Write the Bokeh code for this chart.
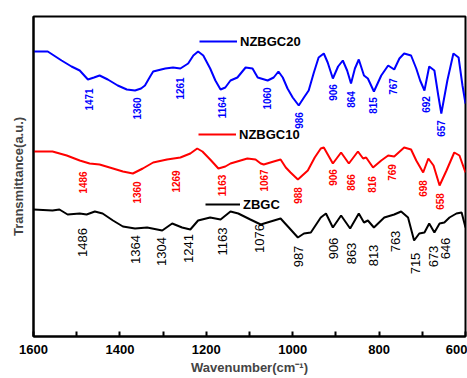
import math
from bokeh.plotting import figure
from bokeh.models import Range1d, FixedTicker, Legend, LegendItem, ColumnDataSource
from bokeh.core.properties import value
from bokeh.embed import file_html
from bokeh.resources import INLINE

# ---- data (wavenumber cm^-1, transmittance a.u.) ----
nz20_x = [1600, 1567, 1535, 1512, 1493, 1474, 1460, 1447, 1428, 1405, 1384, 1365, 1351, 1342, 1330,
          1323, 1295, 1277, 1260, 1242, 1230, 1219, 1207, 1191, 1179, 1167, 1156, 1144, 1128, 1109,
          1093, 1081, 1058, 1044, 1033, 1023, 1012, 1000, 986, 974, 963, 951, 940, 928, 919, 907,
          895, 884, 874, 865, 856, 847, 835, 826, 812, 795, 779, 765, 753, 742, 726, 714, 705, 695,
          684, 672, 663, 656, 642, 628, 616, 607, 600]
nz20_y = [285, 285, 276, 270, 266, 257, 259, 261, 257, 251, 247, 246, 248, 251, 260,
          265, 268, 269, 268, 273, 281, 285, 281, 268, 256, 247, 249, 256, 259, 269,
          268, 259, 256, 259, 265, 259, 248, 239, 231, 239, 246, 264, 279, 283, 274, 258,
          270, 276, 266, 253, 268, 277, 261, 258, 245, 261, 271, 267, 278, 283, 281, 268, 256, 246,
          270, 266, 241, 223, 256, 283, 279, 251, 233]

nz10_x = [1600, 1556, 1523, 1493, 1470, 1447, 1416, 1393, 1370, 1347, 1323, 1291, 1260, 1237, 1221,
          1209, 1191, 1172, 1156, 1144, 1105, 1086, 1074, 1067, 1044, 1028, 1016, 1005, 988, 965,
          949, 935, 928, 907, 888, 870, 849, 837, 830, 814, 795, 779, 765, 742, 726, 714, 698,
          686, 674, 660, 644, 626, 614, 600]
nz10_y = [185, 185, 181, 176, 173, 172, 168, 165, 163, 168, 174, 177, 179, 183, 188,
          185, 177, 168, 170, 173, 178, 177, 173, 172, 175, 177, 169, 164, 157, 166,
          179, 188, 189, 173, 184, 173, 185, 178, 179, 169, 176, 181, 180, 189, 187, 176, 164,
          178, 171, 151, 166, 184, 181, 164]

zb_x = [1600, 1556, 1540, 1521, 1493, 1477, 1458, 1440, 1416, 1393, 1365, 1337, 1302, 1279, 1256,
        1237, 1219, 1191, 1167, 1144, 1126, 1098, 1074, 1051, 1028, 1009, 988, 974, 958, 935,
        923, 907, 888, 867, 847, 835, 826, 812, 788, 765, 749, 733, 719, 707, 695, 684, 672,
        660, 649, 637, 621, 609, 600]
zb_y = [127, 126, 127, 122, 123, 122, 125, 123, 116, 110, 108, 109, 106, 113, 109,
        107, 116, 119, 117, 125, 123, 117, 112, 115, 118, 109, 99, 103, 104, 119,
        123, 109, 121, 108, 123, 114, 116, 109, 119, 122, 125, 119, 96, 103, 104, 113, 104,
        113, 114, 119, 123, 124, 109]

# peak labels
nz20_peaks = [1471, 1360, 1261, 1164, 1060, 986, 906, 864, 815, 767, 692, 657]
nz20_peak_y = [237, 228, 248, 229, 238, 216, 244, 237, 231, 250, 232, 208]
nz10_peaks = [1486, 1360, 1269, 1163, 1067, 988, 906, 866, 816, 769, 698, 658]
nz10_peak_y = [154, 144, 155, 151, 156, 141, 159, 154, 152, 164, 148, 135]
zb_peaks = [1486, 1364, 1304, 1241, 1163, 1076, 987, 906, 863, 813, 763, 715, 673, 646]
zb_peak_y = [94, 87, 85, 88, 95, 98, 80, 88, 83, 81, 95, 73, 80, 88]

major_ticks = [1600, 1400, 1200, 1000, 800, 600]
minor_ticks = [1500, 1300, 1100, 900, 700]

FONT = "Liberation Sans"

p = figure(width=467, height=378, output_backend="svg", toolbar_location=None,
           x_range=Range1d(1600, 600), y_range=Range1d(0, 320),
           min_border_left=33, min_border_right=2, min_border_top=16, min_border_bottom=42)
p.grid.visible = False
p.outline_line_color = "black"
p.outline_line_width = 2
p.background_fill_color = "white"
p.border_fill_color = "white"

xa = p.xaxis[0]
xa.ticker = FixedTicker(ticks=major_ticks, minor_ticks=minor_ticks)
xa.major_tick_in = 5
xa.major_tick_out = 0
xa.minor_tick_in = 5
xa.minor_tick_out = 0
xa.major_tick_line_width = 2
xa.minor_tick_line_width = 2
xa.axis_line_width = 2
xa.major_label_text_font = FONT
xa.major_label_text_font_style = "bold"
xa.major_label_text_font_size = "13px"
xa.major_label_text_color = "black"
xa.major_label_standoff = 8
xa.axis_label = "Wavenumber(cm⁻¹)"
xa.axis_label_text_font = FONT
xa.axis_label_text_font_style = "bold"
xa.axis_label_text_font_size = "13px"
xa.axis_label_standoff = 3

ya = p.yaxis[0]
ya.ticker = FixedTicker(ticks=[])
ya.axis_line_width = 2
ya.major_tick_line_color = None
ya.minor_tick_line_color = None
ya.axis_label = "Transmittance(a.u.)"
ya.axis_label_text_font = FONT
ya.axis_label_text_font_style = "bold"
ya.axis_label_text_font_size = "13px"
ya.axis_label_standoff = 8

r20 = p.line(nz20_x, nz20_y, line_color="#0000FF", line_width=2)
r10 = p.line(nz10_x, nz10_y, line_color="#FF0000", line_width=2)
rzb = p.line(zb_x, zb_y, line_color="black", line_width=2)

def labels(xs, ys, color, size, style):
    src = ColumnDataSource(dict(x=xs, y=ys, t=[str(v) for v in xs]))
    p.text(x="x", y="y", text="t", source=src, angle=math.pi / 2,
           text_align="center", text_baseline="middle",
           text_font=value(FONT), text_font_size=size, text_font_style=style,
           text_color=color)

labels(nz20_peaks, nz20_peak_y, "#0000FF", "10px", "bold")
labels(nz10_peaks, nz10_peak_y, "#FF0000", "10px", "bold")
labels(zb_peaks, zb_peak_y, "black", "13px", "normal")

def add_legend(label, rend, loc, gw):
    lg = Legend(items=[LegendItem(label=label, renderers=[rend])], location=loc,
                glyph_width=gw, glyph_height=16, label_height=16, label_standoff=3,
                padding=0, margin=0, spacing=0,
                background_fill_alpha=0, border_line_color=None,
                label_text_font=FONT, label_text_font_style="bold",
                label_text_font_size="13px", label_text_color="black")
    p.add_layout(lg)

add_legend("NZBGC20", r20, (166, 287), 38)
add_legend("NZBGC10", r10, (165, 194), 38)
add_legend("ZBGC", rzb, (172, 124), 35)

open("out.html", "w").write(file_html(p, INLINE))
